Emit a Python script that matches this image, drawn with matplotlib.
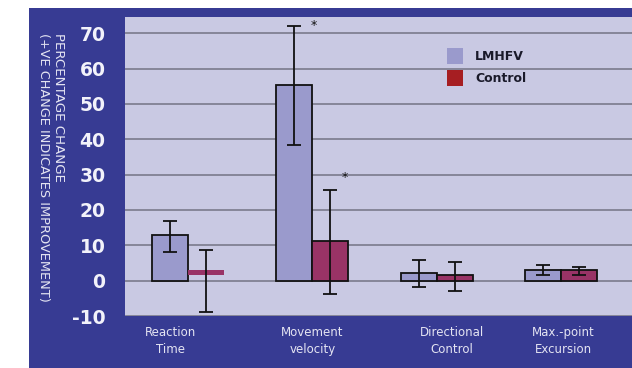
import matplotlib
matplotlib.use("Agg")
import matplotlib.pyplot as plt
from matplotlib.patches import Rectangle, Patch
import numpy as np

categories = ["Reaction\nTime", "Movement\nvelocity", "Directional\nControl", "Max.-point\nExcursion"]
lmhfv = [13.0, 55.5, 2.1, 2.9]
lmhfv_lo = [8.2, 38.5, -1.9, 1.5]
lmhfv_hi = [16.8, 72.0, 5.9, 4.4]
control = [2.3, 11.1, 1.6, 2.9]
control_lo = [-9.0, -3.8, -2.8, 1.7]
control_hi = [8.7, 25.7, 5.4, 3.8]
significant_lmhfv = [False, True, False, False]
significant_control = [False, True, False, False]
yticks = [-10, 0, 10, 20, 30, 40, 50, 60, 70]

BLUE = "#373b93"
PANEL = "#c9c9e3"
C_LMHFV = "#9a9acc"
C_CTRL = "#993366"

fig = plt.figure(figsize=(6.32, 3.68), dpi=100, facecolor="white")
fig.patches.append(Rectangle((29 / 632, 0), 1, 1 - 8 / 368, transform=fig.transFigure,
                             facecolor=BLUE, edgecolor="none", zorder=-5))
ax = fig.add_axes([125 / 632, 1 - 316 / 368, 1 - 125 / 632, (316 - 17) / 368])
ax.set_zorder(2)
ax.set_facecolor(PANEL)

x = np.arange(len(categories))
w = 0.29

ax.bar(x - w / 2, lmhfv, w, color=C_LMHFV, edgecolor="#111", linewidth=1.3, zorder=3)

# control bars; the first one is drawn as a flat marker in the original
for i, v in enumerate(control):
    if i == 0:
        ax.bar(x[i] + w / 2, 1.6, w, bottom=v - 0.8, color=C_CTRL, edgecolor="none", zorder=3)
    else:
        ax.bar(x[i] + w / 2, v, w, color=C_CTRL, edgecolor="#111", linewidth=1.3, zorder=3)

lm = np.array(lmhfv)
ax.errorbar(x - w / 2, lm, yerr=[lm - np.array(lmhfv_lo), np.array(lmhfv_hi) - lm],
            fmt="none", ecolor="#111", elinewidth=1.3, capsize=5, capthick=1.3, zorder=4)
ctr_mid = (np.array(control_lo) + np.array(control_hi)) / 2
ax.errorbar(x + w / 2, ctr_mid, yerr=[ctr_mid - np.array(control_lo), np.array(control_hi) - ctr_mid],
            fmt="none", ecolor="#111", elinewidth=1.3, capsize=5, capthick=1.3, zorder=4)

for i in range(len(categories)):
    if significant_lmhfv[i]:
        ax.text(x[i] - w / 2 + 0.16, lmhfv_hi[i] + 0.1, "*", ha="center", va="center",
                fontsize=9, color="#111", zorder=5)
    if significant_control[i]:
        ax.text(x[i] + w / 2 + 0.12, control_hi[i] + 3.5, "*", ha="center", va="center",
                fontsize=9, color="#111", zorder=5)

ax.set_xlim(-0.507, 3.572)
ax.set_ylim(-10, 74.6)
ax.set_yticks(yticks)
ax.set_yticklabels([str(t) for t in yticks], fontsize=13.5, fontweight="bold", color="#f2f2fa")
ax.tick_params(axis="y", length=0, pad=14)
ax.set_xticks([])
ax.grid(axis="y", color="#7a7a8c", linewidth=1.2, zorder=1)
for s in ax.spines.values():
    s.set_visible(False)

label_offsets = [-0.137, 0.0, 0.12, 0.017]
for i, lab in enumerate(categories):
    ax.text(x[i] + label_offsets[i], -12.9, lab, ha="center", va="top",
            fontsize=8.5, color="#e4e4f2", linespacing=1.4, clip_on=False)

fig.text(58 / 632, 1 - 33 / 368, "PERCENTAGE CHANGE", rotation=270, ha="center", va="top",
         fontsize=9.6, color="#e4e4f2")
fig.text(43 / 632, 1 - 33 / 368, "(+VE CHANGE INDICATES IMPROVEMENT)", rotation=270,
         ha="center", va="top", fontsize=9.3, color="#e4e4f2")

handles = [Patch(facecolor=C_LMHFV, edgecolor="none"), Patch(facecolor="#a61e22", edgecolor="none")]
leg = ax.legend(handles, ["LMHFV", "Control"], loc="upper left",
                bbox_to_anchor=((447 - 125) / 507, (316 - 48) / 299),
                frameon=False, borderpad=0, borderaxespad=0,
                handlelength=1.3, handleheight=1.6, handletextpad=0.95,
                labelspacing=0.5, prop={"weight": "bold", "size": 9})
for t in leg.get_texts():
    t.set_color("#1a1a2a")

fig.savefig("out.png", dpi=100, facecolor="white")
